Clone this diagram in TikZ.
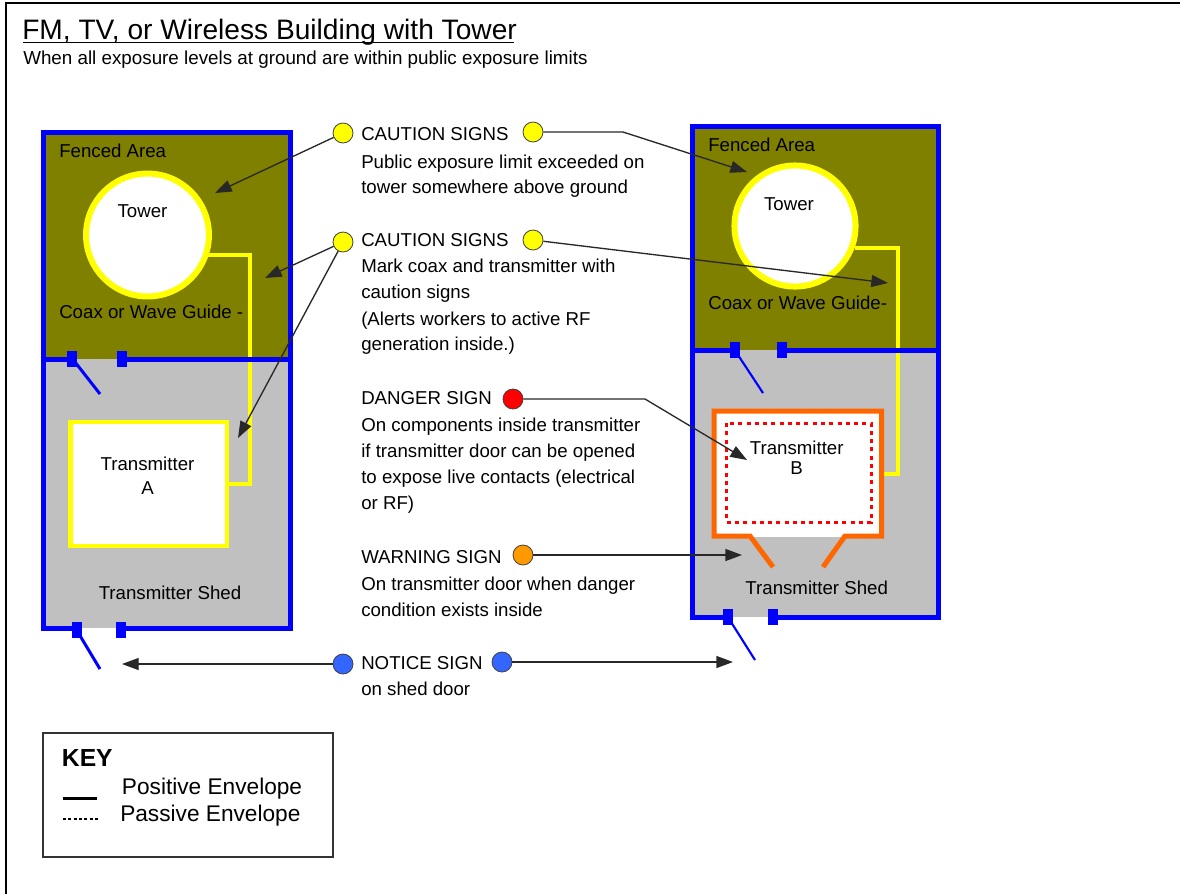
\documentclass[tikz,border=0pt]{standalone}
\usepackage{fontspec}
\setmainfont{Liberation Sans}
\usetikzlibrary{arrows.meta}
\definecolor{olivebg}{RGB}{128,128,0}
\definecolor{shedgray}{RGB}{192,192,192}
\definecolor{wallblue}{RGB}{0,0,255}
\definecolor{coaxyellow}{RGB}{255,255,0}
\definecolor{txorange}{RGB}{255,102,0}
\definecolor{dotred}{RGB}{255,0,0}
\definecolor{signorange}{RGB}{255,153,0}
\definecolor{signblue}{RGB}{51,102,255}
\definecolor{linegray}{RGB}{40,40,40}
\begin{document}
\begin{tikzpicture}[x=0.75pt,y=-0.75pt,
 wall/.style={draw=wallblue,line width=3.75pt},
 leaf/.style={draw=wallblue,line width=2.25pt},
 coax/.style={draw=coaxyellow,line width=3pt},
 lbl/.style={font=\fontsize{14}{19.5}\selectfont,inner sep=0pt,anchor=base west},
 clbl/.style={font=\fontsize{14}{19.5}\selectfont,inner sep=0pt,anchor=base},
 keylbl/.style={font=\fontsize{17}{20}\selectfont,inner sep=0pt,anchor=base west},
 sign/.style={circle,draw=black!75,line width=0.6pt,minimum size=15pt,inner sep=0pt},
 conn/.style={draw=linegray,line width=1pt,-{Triangle[length=12.5pt,width=9pt]}},
]
\useasboundingbox (0,0) rectangle (1180,894);
\fill[white] (0,0) rectangle (1180,894);
% page frame
\draw[line width=1.5pt,black] (6,894) -- (6,3) -- (1180,3);

% title
\node[inner sep=0pt,anchor=base west,font=\fontsize{21.1}{24}\selectfont] (title) at (22,39.5) {FM, TV, or Wireless Building with Tower};
\draw[line width=1.1pt] (23,42.5) -- (514,42.5);
\node[inner sep=0pt,anchor=base west,font=\fontsize{14.1}{19.5}\selectfont] (subtitle) at (23,64) {When all exposure levels at ground are within public exposure limits};

% ---------------- left building ----------------
\fill[olivebg] (43,132) rectangle (290,359);
\fill[shedgray] (43,359) rectangle (290,628);
\draw[coax] (205,255) -- (249.5,255) -- (249.5,483.7) -- (229,483.7);
\draw[draw=coaxyellow,line width=4.5pt,fill=white] (147.5,235) circle[radius=46.1pt];
\draw[draw=coaxyellow,line width=3.4pt,fill=white] (70.5,422) rectangle (227,546);
\draw[wall] (82,628) -- (43,628) -- (43,132) -- (290,132) -- (290,628) -- (116,628);
\draw[wall] (43,359) -- (72,359);
\draw[wall] (122,359) -- (290,359);
\fill[wallblue] (67,351) rectangle (77,367);
\fill[wallblue] (117,351) rectangle (127,367);
\fill[wallblue] (72,622) rectangle (82,638);
\fill[wallblue] (116,622) rectangle (126,638);
\draw[leaf] (75,362) -- (100,394);
\draw[leaf] (79,634) -- (100,669);
\node[lbl] (fenceL) at (59,157.3) {Fenced Area};
\node[clbl] (towerL) at (142.5,217.3) {Tower};
\node[lbl] (coaxL) at (59,318) {Coax or Wave Guide -};
\node[clbl] (txA1) at (147.5,470) {Transmitter};
\node[clbl] (txA2) at (147.5,494) {A};
\node[clbl] (shedL) at (170,599) {Transmitter Shed};

% ---------------- right building ----------------
\fill[olivebg] (692,126) rectangle (938,350);
\fill[shedgray] (692,350) rectangle (938,617);
\draw[coax] (855,247.5) -- (897.5,247.5) -- (897.5,474) -- (884,474);
\draw[draw=coaxyellow,line width=4.5pt,fill=white] (795,226) circle[radius=45.4pt];
\fill[white] (714,411) rectangle (881.5,537);
\draw[draw=txorange,line width=3.75pt] (773,567) -- (750,536) -- (714,536) -- (714,411) -- (881.5,411) -- (881.5,536) -- (845,536) -- (823,567);
\draw[draw=dotred,line width=2.25pt,dash pattern=on 3pt off 3.2pt] (726.5,423) rectangle (871,522);
\draw[wall] (733,617) -- (692,617) -- (692,126) -- (938,126) -- (938,617) -- (768,617);
\draw[wall] (692,350) -- (735,350);
\draw[wall] (782,350) -- (938,350);
\fill[wallblue] (730,342) rectangle (740,358);
\fill[wallblue] (777,342) rectangle (787,358);
\fill[wallblue] (723,609) rectangle (733,625);
\fill[wallblue] (768,609) rectangle (778,625);
\draw[leaf,line width=1.6pt] (738,355) -- (763,393);
\draw[leaf,line width=1.6pt] (731,622) -- (755,660);
\node[lbl] (fenceR) at (708,151.7) {Fenced Area};
\node[clbl] (towerR) at (789,210) {Tower};
\node[lbl] (coaxR) at (708,309.3) {Coax or Wave Guide-};
\node[clbl] (txB1) at (796.7,454) {Transmitter};
\node[clbl] (txB2) at (796.7,474.3) {B};
\node[clbl] (shedR) at (816.7,594) {Transmitter Shed};

% ---------------- signs text ----------------
\node[sign,fill=coaxyellow] (c1L) at (343,133) {};
\node[sign,fill=coaxyellow] (c1R) at (533,132) {};
\node[lbl] (h1) at (361,140) {CAUTION SIGNS};
\node[lbl] (h1a) at (361,168.3) {Public exposure limit exceeded on};
\node[lbl] (h1b) at (361,193) {tower somewhere above ground};

\node[sign,fill=coaxyellow] (c2L) at (343,242) {};
\node[sign,fill=coaxyellow] (c2R) at (533,240) {};
\node[lbl] (h2) at (361,246.7) {CAUTION SIGNS};
\node[lbl] (h2a) at (361,272.3) {Mark coax and transmitter with};
\node[lbl] (h2b) at (361,298.3) {caution signs};
\node[lbl] (h2c) at (361,325) {(Alerts workers to active RF};
\node[lbl] (h2d) at (361,350.7) {generation inside.)};

\node[sign,fill=dotred] (dS) at (513,399) {};
\node[lbl] (h3) at (361,404) {DANGER SIGN};
\node[lbl] (h3a) at (361,431.7) {On components inside transmitter};
\node[lbl] (h3b) at (361,457.3) {if transmitter door can be opened};
\node[lbl] (h3c) at (361,483.3) {to expose live contacts (electrical};
\node[lbl] (h3d) at (361,509.3) {or RF)};

\node[sign,fill=signorange] (wS) at (523,555) {};
\node[lbl] (h4) at (361,563.3) {WARNING SIGN};
\node[lbl] (h4a) at (361,590.7) {On transmitter door when danger};
\node[lbl] (h4b) at (361,616) {condition exists inside};

\node[sign,fill=signblue] (nL) at (343,664) {};
\node[sign,fill=signblue] (nR) at (502,662) {};
\node[lbl] (h5) at (361,669) {NOTICE SIGN};
\node[lbl] (h5a) at (361,695.7) {on shed door};

% ---------------- connectors ----------------
\coordinate (t1) at (215,193);
\coordinate (b2) at (623,132);
\coordinate (t2) at (747,172);
\coordinate (t3) at (265,278);
\coordinate (t4) at (238,438);
\coordinate (t5) at (888,283);
\coordinate (b6) at (645,399);
\coordinate (t6) at (747,460);
\coordinate (t7) at (742,555);
\coordinate (t8) at (122,664);
\coordinate (t9) at (733,662);
\draw[conn] (c1L) -- (t1);
\draw[conn] (c1R.east) -- (b2) -- (t2);
\draw[conn] (c2L) -- (t3);
\draw[conn] (c2L) -- (t4);
\draw[conn] (c2R) -- (t5);
\draw[conn] (dS.east) -- (b6) -- (t6);
\draw[conn] (wS) -- (t7);
\draw[conn] (nL) -- (t8);
\draw[conn] (nR) -- (t9);

% ---------------- key ----------------
\draw[draw=black!80,line width=1.1pt] (43,733) rectangle (333,857);
\node[inner sep=0pt,anchor=base west,font=\bfseries\fontsize{18.5}{20}\selectfont] (keyt) at (61.7,766.7) {KEY};
\node[keylbl] (kpos) at (121.7,794) {Positive Envelope};
\node[keylbl] (kpas) at (120,821.7) {Passive Envelope};
\draw[black,line width=2.25pt] (63,798) -- (97,798);
\draw[black,line width=2pt,dash pattern=on 2.2pt off 1.8pt] (63,819) -- (98,819);
\end{tikzpicture}
\end{document}
